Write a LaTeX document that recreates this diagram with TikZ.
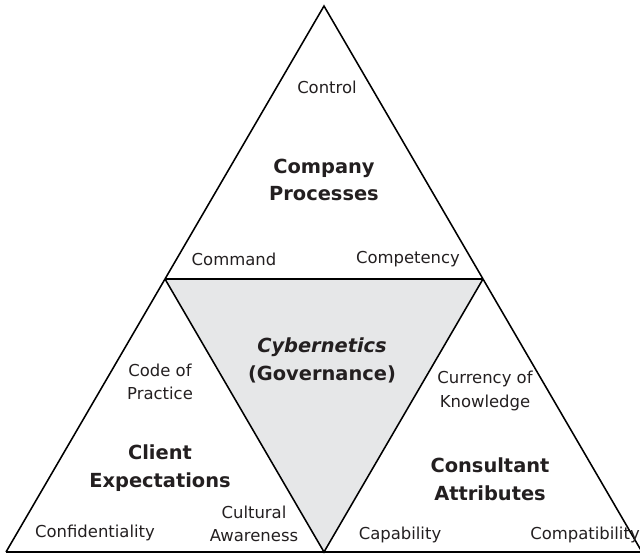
\documentclass[tikz,border=0pt]{standalone}
\usepackage{fontspec}
\setmainfont{DejaVu Sans}
\definecolor{govgray}{RGB}{230,231,232}
\definecolor{txt}{RGB}{35,31,32}

\begin{document}
\begin{tikzpicture}[x=0.025cm,y=-0.025cm,
	side/.style={line width=1.1pt,line join=miter},
	heavy/.style={line width=1.8pt},
	lbl/.style={align=center,inner sep=0pt,text=txt,font=\fontsize{11.7}{16.5}\selectfont},
	head/.style={align=center,inner sep=0pt,text=txt,font=\fontsize{13.8}{19.8}\selectfont\bfseries}]

\useasboundingbox (0,0) rectangle (640,554);

\coordinate (top) at (324,6);
\coordinate (bl) at (6,552);
\coordinate (br) at (642,552);
\coordinate (ml) at (165,279);
\coordinate (mr) at (483,279);
\coordinate (mb) at (324,552);

	\fill[govgray] (ml) -- (mr) -- (mb) -- cycle;
	\draw[side] (bl) -- (top) -- (br);
	\draw[side] (ml) -- (mb) -- (mr);
	\draw[heavy] (ml) -- (mr);
	\draw[heavy] (bl) -- (br);

\node[lbl]  (control)    at (327,87)  {Control};
\node[head] (company)    at (324,180) {Company\\Processes};
\node[lbl]  (command)    at (234,259) {Command};
\node[lbl]  (competency) at (408,259) {Competency};

\node[head] (cyber)      at (322,360) {{\itshape Cybernetics}\\(Governance)};

\node[lbl]  (code)       at (160,382) {Code of\\Practice};
\node[head] (client)     at (160,468) {Client\\Expectations};
\node[lbl]  (cultural)   at (254,524) {Cultural\\Awareness};
\node[lbl]  (confid)     at (95,533)  {Confidentiality};

\node[lbl]  (currency)   at (485,391) {Currency of\\Knowledge};
\node[head] (consult)    at (490,479) {Consultant\\Attributes};
\node[lbl]  (capab)      at (400,535) {Capability};
\node[lbl]  (compat)     at (585,535) {Compatibility};

\end{tikzpicture}
\end{document}
